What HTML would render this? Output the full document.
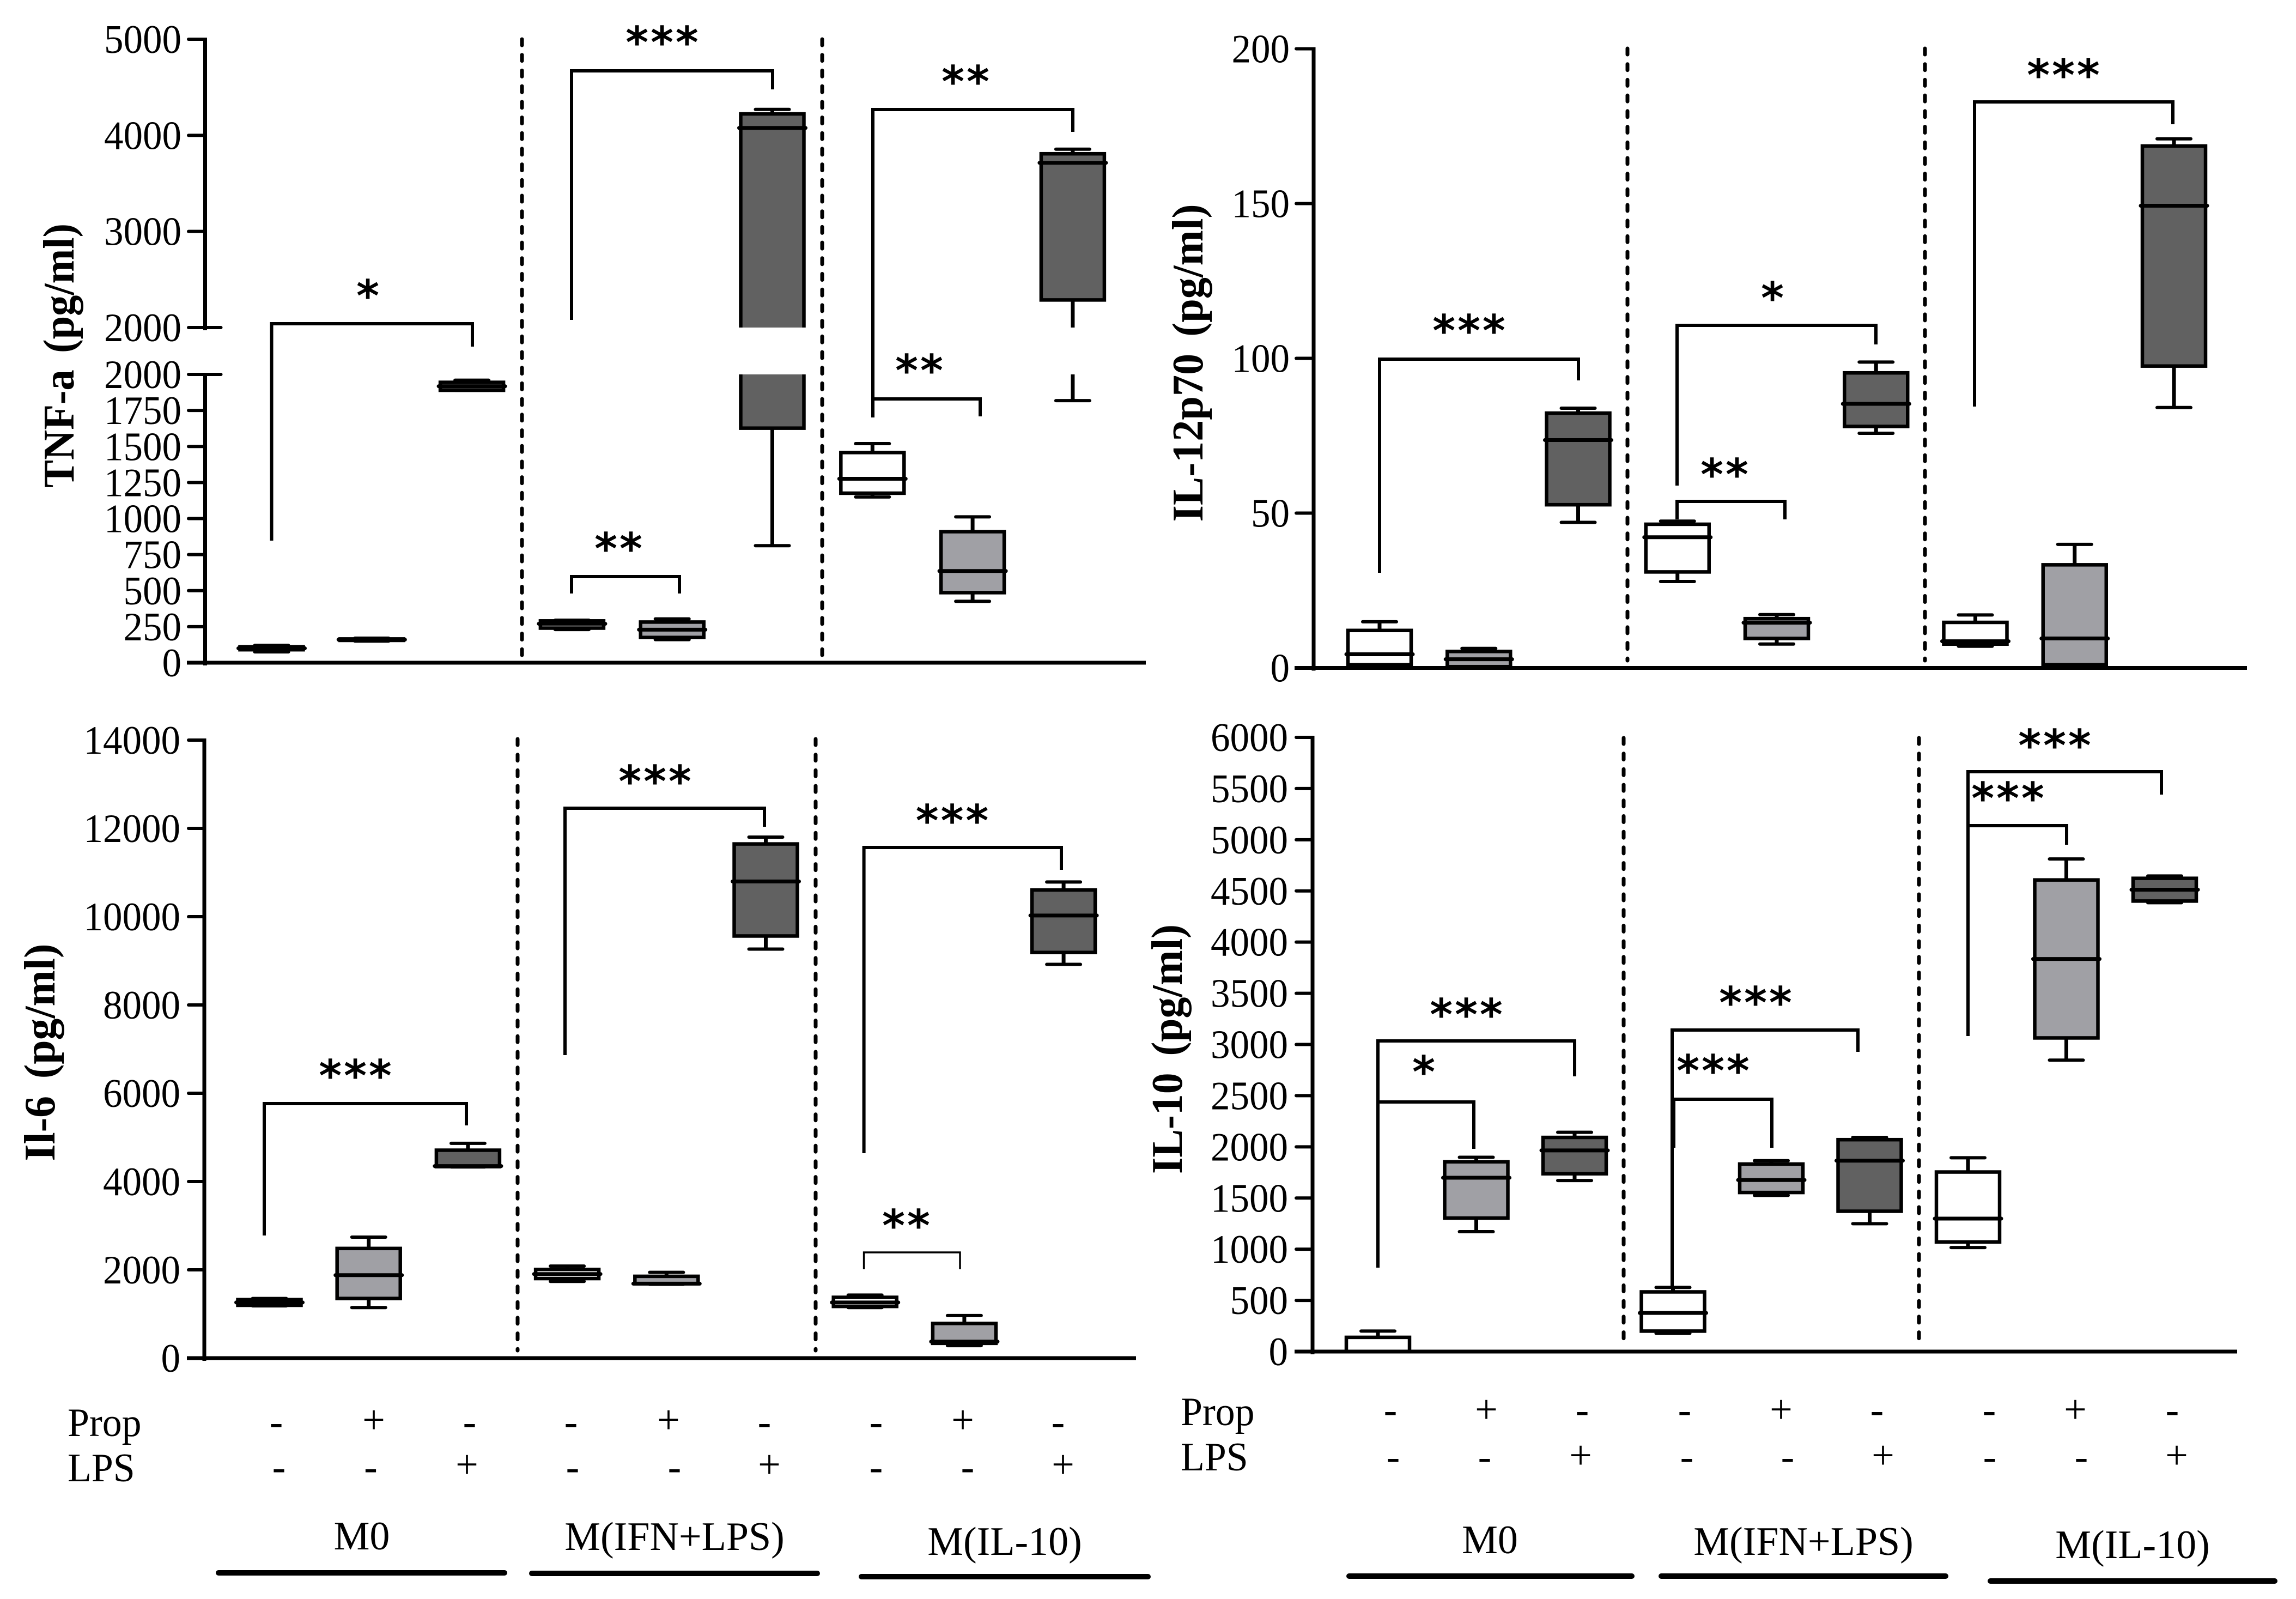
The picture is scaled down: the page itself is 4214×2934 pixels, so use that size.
<!DOCTYPE html>
<html lang="en">
<head>
<meta charset="utf-8">
<title>Cytokine box plots</title>
<style>
html,body{margin:0;padding:0;background:#fff;overflow:hidden;}
svg{display:block;}
text{font-family:"Liberation Serif",serif;fill:#000;}
.tick{font-size:74px;text-anchor:end;}
.title{font-size:81px;font-weight:bold;text-anchor:middle;word-spacing:12px;}
.lab{font-size:74px;}
.sign{font-size:74px;text-anchor:middle;}
.grp{font-size:74px;text-anchor:middle;}
.star{font-family:"DejaVu Sans",sans-serif;font-size:80px;font-weight:bold;text-anchor:middle;letter-spacing:4px;transform:translateY(-2px);}
.br{fill:none;stroke:#000;stroke-width:6;}
.thin{stroke-width:3.5;}
.dash{stroke:#000;stroke-width:7;stroke-dasharray:11 17.7;stroke-linecap:round;fill:none;}
.ul{stroke:#000;stroke-width:10;stroke-linecap:round;fill:none;}
</style>
</head>
<body>
<svg id="chart" xmlns="http://www.w3.org/2000/svg" width="4214" height="2934" viewBox="0 0 4214 2934">
<rect x="0" y="0" width="4214" height="2934" fill="#fff"/>

<!-- Y axis titles -->
<text class="title" transform="translate(135,652.5) rotate(-90)" textLength="485" lengthAdjust="spacingAndGlyphs">TNF-a (pg/ml)</text>
<text class="title" transform="translate(2207,666) rotate(-90)" textLength="583" lengthAdjust="spacingAndGlyphs">IL-12p70 (pg/ml)</text>
<text class="title" transform="translate(100,1931) rotate(-90)" textLength="399" lengthAdjust="spacingAndGlyphs">Il-6 (pg/ml)</text>
<text class="title" transform="translate(2169,1925) rotate(-90)" textLength="458" lengthAdjust="spacingAndGlyphs">IL-10 (pg/ml)</text>

<!-- Dashed separators -->
<path class="dash" d="M958 72V1202"/>
<path class="dash" d="M1509 72V1202"/>
<path class="dash" d="M2987 89V1212"/>
<path class="dash" d="M3533 89V1212"/>
<path class="dash" d="M950 1356V2478"/>
<path class="dash" d="M1497 1356V2478"/>
<path class="dash" d="M2980 1354V2467"/>
<path class="dash" d="M3522 1354V2467"/>

<!-- Significance brackets: TNF -->
<path class="br" d="M498.5 992V594H867V636"/>
<path class="br" d="M1049 587V130H1418V164"/>
<path class="br" d="M1049 1089V1058H1247V1089"/>
<path class="br" d="M1602 766V201H1969V242"/>
<path class="br" d="M1602 732H1799V764"/>
<!-- IL-12 -->
<path class="br" d="M2532 1051V659H2897V698"/>
<path class="br" d="M3078 891V597H3443V632"/>
<path class="br" d="M3078 953V920H3276V953"/>
<path class="br" d="M3624 746V187H3988V228"/>
<!-- IL-6 -->
<path class="br" d="M485 2267V2025H856V2065"/>
<path class="br" d="M1037 1936V1483H1403V1517"/>
<path class="br" d="M1585.6 2116V1555H1948V1596"/>
<path class="br thin" d="M1585.6 2329V2298H1762V2329"/>
<!-- IL-10 -->
<path class="br" d="M2529 2326V1910H2890V1975"/>
<path class="br" d="M2529 2022H2705V2108"/>
<path class="br" d="M3069 2363V1890H3410V1930"/>
<path class="br" d="M3072 2106V2017H3252V2106"/>
<path class="br" d="M3612 1901V1416H3967V1458"/>
<path class="br" d="M3612 1515H3793V1550"/>

<!-- Significance stars -->
<g>
<text class="star" x="677" y="573">*</text>
<text class="star" x="1217" y="108">***</text>
<text class="star" x="1137" y="1037">**</text>
<text class="star" x="1774" y="180">**</text>
<text class="star" x="1689" y="710">**</text>
<text class="star" x="2698" y="637">***</text>
<text class="star" x="3255" y="577">*</text>
<text class="star" x="3167" y="901">**</text>
<text class="star" x="3789" y="168">***</text>
<text class="star" x="654" y="2004">***</text>
<text class="star" x="1204" y="1464">***</text>
<text class="star" x="1749.5" y="1536">***</text>
<text class="star" x="1665" y="2279">**</text>
<text class="star" x="2693" y="1892">***</text>
<text class="star" x="2615" y="1997">*</text>
<text class="star" x="3224" y="1870">***</text>
<text class="star" x="3146" y="1995">***</text>
<text class="star" x="3773" y="1398">***</text>
<text class="star" x="3687" y="1495">***</text>
</g>

<!-- Treatment rows, left -->
<text class="lab" transform="translate(124,2635) scale(.97,1)">Prop</text>
<text class="lab" transform="translate(124,2718) scale(.97,1)">LPS</text>
<g>
<text class="sign" x="507" y="2633">-</text>
<text class="sign" x="686" y="2630">+</text>
<text class="sign" x="862" y="2633">-</text>
<text class="sign" x="1048" y="2633">-</text>
<text class="sign" x="1227" y="2630">+</text>
<text class="sign" x="1403" y="2633">-</text>
<text class="sign" x="1608" y="2633">-</text>
<text class="sign" x="1767" y="2630">+</text>
<text class="sign" x="1942" y="2633">-</text>
</g>
<g>
<text class="sign" x="512" y="2716">-</text>
<text class="sign" x="680.5" y="2716">-</text>
<text class="sign" x="857" y="2712">+</text>
<text class="sign" x="1051" y="2716">-</text>
<text class="sign" x="1238" y="2716">-</text>
<text class="sign" x="1412" y="2712">+</text>
<text class="sign" x="1608" y="2716">-</text>
<text class="sign" x="1776" y="2716">-</text>
<text class="sign" x="1951" y="2712">+</text>
</g>
<text class="grp" x="664" y="2843">M0</text>
<text class="grp" x="1238" y="2844">M(IFN+LPS)</text>
<text class="grp" x="1844" y="2853">M(IL-10)</text>
<path class="ul" d="M401 2886H926"/>
<path class="ul" d="M976 2887H1500"/>
<path class="ul" d="M1581 2893H2107"/>

<!-- Treatment rows, right -->
<text class="lab" transform="translate(2167,2615) scale(.97,1)">Prop</text>
<text class="lab" transform="translate(2167,2698) scale(.97,1)">LPS</text>
<g>
<text class="sign" x="2552" y="2611">-</text>
<text class="sign" x="2728" y="2611">+</text>
<text class="sign" x="2904" y="2611">-</text>
<text class="sign" x="3092" y="2611">-</text>
<text class="sign" x="3269" y="2611">+</text>
<text class="sign" x="3445" y="2611">-</text>
<text class="sign" x="3651" y="2611">-</text>
<text class="sign" x="3809" y="2611">+</text>
<text class="sign" x="3987" y="2611">-</text>
</g>
<g>
<text class="sign" x="2557" y="2697">-</text>
<text class="sign" x="2725" y="2697">-</text>
<text class="sign" x="2901" y="2695">+</text>
<text class="sign" x="3096" y="2697">-</text>
<text class="sign" x="3281" y="2697">-</text>
<text class="sign" x="3456" y="2695">+</text>
<text class="sign" x="3652" y="2697">-</text>
<text class="sign" x="3820" y="2697">-</text>
<text class="sign" x="3995" y="2695">+</text>
</g>
<text class="grp" x="2734.5" y="2850">M0</text>
<text class="grp" x="3310" y="2853">M(IFN+LPS)</text>
<text class="grp" x="3914" y="2859">M(IL-10)</text>
<path class="ul" d="M2476 2892H2995"/>
<path class="ul" d="M3049 2892H3571"/>
<path class="ul" d="M3653 2901H4175"/>
</svg>

<script>
// Tick labels
const tnfLowerTicks = [0, 250, 500, 750, 1000, 1250, 1500, 1750, 2000];
const tnfUpperTicks = [2000, 3000, 4000, 5000];
const il12Ticks = [0, 50, 100, 150, 200];
const il6Ticks = [0, 2000, 4000, 6000, 8000, 10000, 12000, 14000];
const il10Ticks = [0, 500, 1000, 1500, 2000, 2500, 3000, 3500, 4000, 4500, 5000, 5500, 6000];

// Fill tone of each of the nine boxes
const boxTones = ['none', 'prop', 'lps', 'none', 'prop', 'lps', 'none', 'prop', 'lps'];

// TNF-a values (pg/ml)
const tnfLow = [75, 150, 1890, 230, 160, 812, 1150, 426, 1818];
const tnfQ1 = [90, 155, 1890, 240, 175, 1627, 1176, 486, 2287];
const tnfMedian = [100, 160, 1918, 270, 229, 4077, 1276, 636, 3714];
const tnfQ3 = [110, 165, 1945, 290, 282, 4223, 1458, 909, 3808];
const tnfHigh = [120, 170, 1960, 295, 304, 4270, 1520, 1012, 3856];

// IL-12p70 values (pg/ml)
const il12Low = [0, 0, 47, 27.9, 7.7, 75.8, 7, 0, 84.1];
const il12Q1 = [1, 0.4, 52.7, 31, 9.5, 78, 7.7, 1, 97.5];
const il12Median = [4.4, 2.8, 73.6, 42.2, 14.6, 85.3, 8.6, 9.5, 149.3];
const il12Q3 = [12.1, 5.3, 82.3, 46.4, 15.9, 95.3, 14.7, 33.3, 168.6];
const il12High = [14.9, 6.3, 83.9, 47.4, 17.2, 98.8, 17.1, 39.9, 170.9];

// Il-6 values (pg/ml)
const il6Low = [1184, 1145, 4330, 1737, 1673, 9266, 1145, 283, 8919];
const il6Q1 = [1197, 1351, 4337, 1802, 1686, 9562, 1171, 335, 9189];
const il6Median = [1261, 1879, 4350, 1905, 1686, 10798, 1261, 373, 10026];
const il6Q3 = [1325, 2484, 4710, 2008, 1853, 11647, 1377, 785, 10605];
const il6High = [1351, 2741, 4865, 2085, 1943, 11802, 1428, 965, 10785];

// IL-10 values (pg/ml)
const il10Low = [0, 1171, 1671, 178, 1526, 1249, 1016, 2847, 4385];
const il10Q1 = [0, 1304, 1737, 200, 1554, 1371, 1071, 3064, 4401];
const il10Median = [0, 1698, 1965, 377, 1676, 1865, 1299, 3835, 4512];
const il10Q3 = [139, 1854, 2092, 583, 1832, 2070, 1754, 4607, 4623];
const il10High = [200, 1898, 2142, 627, 1865, 2092, 1893, 4812, 4646];

const SVGNS = 'http://www.w3.org/2000/svg';
const root = document.getElementById('chart');
const TONE_FILL = { none: '#ffffff', prop: '#a0a0a5', lps: '#616161' };

function make(parent, tag, props) {
  const el = document.createElementNS(SVGNS, tag);
  for (const k in props) el.setAttribute(k, props[k]);
  parent.appendChild(el);
  return el;
}

function linearScale(dLo, dHi, pLo, pHi) {
  return function (v) { return pLo + (v - dLo) * (pHi - pLo) / (dHi - dLo); };
}

function drawTicks(key, ticks, y, axisX, labelRight, tickLeft, breakValue) {
  ticks.forEach(function (t) {
    const isBreak = t === breakValue;
    const tick = make(root, 'line', { x1: tickLeft + 3, x2: isBreak ? axisX + 29 : axisX, y1: y(t), y2: y(t), stroke: '#000', 'stroke-width': 6, 'stroke-linecap': 'round' });
    
    
    const label = make(root, 'text', { class: 'tick', transform: 'translate(' + labelRight + ',' + (y(t) + 25) + ') scale(.96,1)' });
    label.textContent = String(t);
    
    
  });
}

function drawBoxes(key, parent, x, y, low, q1, median, q3, high) {
  median.forEach(function (m, i) {
    const cx = x(i);
    const g = make(parent, 'g', {});
    
    

    const upper = make(g, 'line', { x1: cx, x2: cx, y1: y(high[i]), y2: y(q3[i]), stroke: '#000', 'stroke-width': 7 });
    
    
    const lower = make(g, 'line', { x1: cx, x2: cx, y1: y(q1[i]), y2: y(low[i]), stroke: '#000', 'stroke-width': 7 });
    
    
    const capHi = make(g, 'line', { x1: cx - 31, x2: cx + 31, y1: y(high[i]), y2: y(high[i]), stroke: '#000', 'stroke-width': 6, 'stroke-linecap': 'round' });
    
    
    const capLo = make(g, 'line', { x1: cx - 31, x2: cx + 31, y1: y(low[i]), y2: y(low[i]), stroke: '#000', 'stroke-width': 6, 'stroke-linecap': 'round' });
    
    

    const box = make(g, 'rect', { x: cx - 58, width: 116, y: y(q3[i]), height: Math.max(0.5, y(q1[i]) - y(q3[i])), fill: TONE_FILL[boxTones[i]], stroke: '#000', 'stroke-width': 6.5 });
    
    

    const med = make(g, 'line', { x1: cx - 61, x2: cx + 61, y1: y(m), y2: y(m), stroke: '#000', 'stroke-width': 7, 'stroke-linecap': 'round' });
    
    
  });
}

function drawPanel(key, opts, series) {
  const x = function (i) { return opts.firstX + i * opts.stepX; };
  opts.segments.forEach(function (seg, s) {
    const y = linearScale(seg.dLo, seg.dHi, seg.pBottom, seg.pTop);
    const yAxis = make(root, 'line', { x1: opts.axisX, x2: opts.axisX, y1: seg.pTop - 3, y2: seg.pBottom + 5, stroke: '#000', 'stroke-width': 7 });
    
    
    drawTicks(key, seg.ticks, y, opts.axisX, opts.labelRight, opts.tickLeft, seg.breakValue);

    let parent = root;
    if (seg.clipTop !== undefined) {
      const clipId = key + '-clip-' + s;
      const clip = make(root, 'clipPath', { id: clipId });
      make(clip, 'rect', { x: 0, y: seg.clipTop, width: 4214, height: seg.clipBottom - seg.clipTop });
      parent = make(root, 'g', { 'clip-path': 'url(#' + clipId + ')' });
      
      
    }
    drawBoxes(key, parent, x, y, series.low, series.q1, series.median, series.q3, series.high);

    if (s === 0) {
      const xAxis = make(root, 'line', { x1: opts.tickLeft, x2: opts.axisEnd, y1: seg.pBottom, y2: seg.pBottom, stroke: '#000', 'stroke-width': 7 });
      
      
    }
  });
}

drawPanel('tnf',
  { firstX: 498.5, stepX: 183.8, axisX: 376.5, axisEnd: 2103, labelRight: 333, tickLeft: 343,
    segments: [
      { dLo: 0, dHi: 2000, pBottom: 1216, pTop: 687, ticks: tnfLowerTicks, clipTop: 687, clipBottom: 2934, breakValue: 2000 },
      { dLo: 2000, dHi: 5000, pBottom: 601, pTop: 72, ticks: tnfUpperTicks, clipTop: 0, clipBottom: 601, breakValue: 2000 }
    ] },
  { low: tnfLow, q1: tnfQ1, median: tnfMedian, q3: tnfQ3, high: tnfHigh });

drawPanel('il12',
  { firstX: 2532, stepX: 182.25, axisX: 2411, axisEnd: 4124, labelRight: 2367, tickLeft: 2376,
    segments: [{ dLo: 0, dHi: 200, pBottom: 1225.5, pTop: 89.5, ticks: il12Ticks }] },
  { low: il12Low, q1: il12Q1, median: il12Median, q3: il12Q3, high: il12High });

drawPanel('il6',
  { firstX: 494.5, stepX: 182.2, axisX: 375, axisEnd: 2085, labelRight: 331, tickLeft: 343,
    segments: [{ dLo: 0, dHi: 14000, pBottom: 2492, pTop: 1358, ticks: il6Ticks }] },
  { low: il6Low, q1: il6Q1, median: il6Median, q3: il6Q3, high: il6High });

drawPanel('il10',
  { firstX: 2529, stepX: 180.5, axisX: 2409, axisEnd: 4106, labelRight: 2364, tickLeft: 2376,
    segments: [{ dLo: 0, dHi: 6000, pBottom: 2480, pTop: 1353, ticks: il10Ticks }] },
  { low: il10Low, q1: il10Q1, median: il10Median, q3: il10Q3, high: il10High });
</script>
</body>
</html>
